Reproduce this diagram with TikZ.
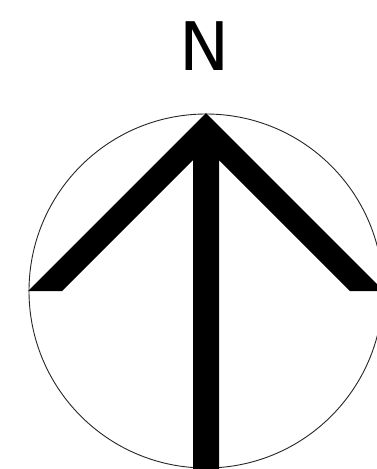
\documentclass[tikz,border=0pt]{standalone}
\usepackage{fontspec}
\newfontfamily\labelfont{DejaVu Sans}
\begin{document}
\begin{tikzpicture}[x=1pt,y=-1pt,
  ring/.style={draw=black!85,line width=0.9pt},
  arrowshape/.style={fill=black,draw=none}]
\useasboundingbox (0,0) rectangle (376,469);
\fill[white] (0,0) rectangle (376,469);
\node[anchor=base,inner sep=0pt,font=\labelfont\fontsize{67}{67}\selectfont] (north) at (204.5,70) {N};
\draw[ring] (206,291) circle[radius=177];
\fill[arrowshape] (206,113) -- (28,291) -- (62,291) -- (193,160) -- (193,470) -- (219,470) -- (219,160) -- (350,291) -- (384,291) -- cycle;
\end{tikzpicture}
\end{document}
